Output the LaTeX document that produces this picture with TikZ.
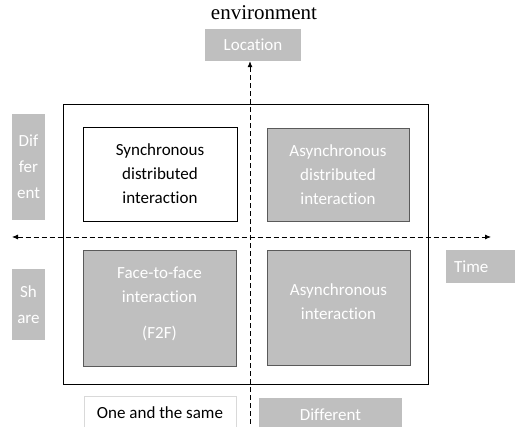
\documentclass[tikz,border=0pt]{standalone}
\usepackage{fontspec}
\setmainfont{Liberation Serif}
\newfontfamily\labelfont[Ligatures=NoCommon]{Carlito}
\usetikzlibrary{arrows.meta}
\definecolor{boxgray}{HTML}{BFBFBF}
\definecolor{edgegray}{HTML}{5A5A5A}
\definecolor{lightedge}{HTML}{D9D9D9}

\begin{document}
\begin{tikzpicture}[x=1pt, y=-1pt,
  quad/.style={rectangle, draw=#1, line width=0.8pt, align=center,
    font=\labelfont\fontsize{17}{24}\selectfont},
  grayquad/.style={quad=edgegray, fill=boxgray, text=white},
  tag/.style={rectangle, fill=boxgray, text=white, align=center,
    font=\labelfont\fontsize{17}{26}\selectfont},
  axis/.style={line width=0.8pt, dash pattern=on 5pt off 3pt}
]
\clip (0,0) rectangle (515,427);

\node[font=\fontsize{21}{24}\selectfont] (env) at (264,13) {environment};

% outer frame
\node[draw, line width=0.8pt, minimum width=365pt, minimum height=280pt] (frame) at (245.5,244) {};

% axes
\coordinate (vbot) at (250,440);
\coordinate (tleft) at (12,237);
\coordinate (tright) at (491,237);

\node[tag, minimum width=96pt, minimum height=32pt] (loc) at (253,45) {Location};
\draw[axis, -{Latex[length=6pt,width=5pt]}] (vbot) -- (vbot |- loc.south);
\draw[axis, {Latex[length=6pt,width=5pt]}-{Latex[length=6pt,width=5pt]}] (tleft) -- (tright);

% quadrants
\node[quad=black, fill=white, minimum width=154pt, minimum height=94pt] (sync) at (160,174) {Synchronous\\distributed\\interaction};
\node[grayquad, minimum width=142pt, minimum height=93pt] (async) at (338,174.5) {Asynchronous\\distributed\\interaction};
\node[grayquad, minimum width=153pt, minimum height=116pt] (f2f) at (159.5,308) {Face-to-face\\interaction\\[12pt](F2F)\\[-14pt]};
\node[grayquad, minimum width=143pt, minimum height=115pt] (asyncint) at (338.5,307.5) {Asynchronous\\interaction\\[-12pt]};

% axis labels
\node[tag, minimum width=33pt, minimum height=106pt, inner xsep=1pt] (diff) at (28.5,167) {Dif\\fer\\ent};
\node[tag, minimum width=33pt, minimum height=71pt, inner xsep=1pt] (share) at (28.5,304.5) {Sh\\are};
\node[tag, anchor=west, text width=60pt, align=left, inner xsep=8pt, minimum height=33pt] (time) at (446,266.5) {Time};
\node[quad=lightedge, fill=white, line width=0.6pt, text=black, minimum width=152pt, minimum height=33pt] (same) at (160,412.5) {One and the same};
\node[tag, minimum width=143pt, minimum height=33pt] (other) at (330.5,414.5) {Different};
\end{tikzpicture}
\end{document}
